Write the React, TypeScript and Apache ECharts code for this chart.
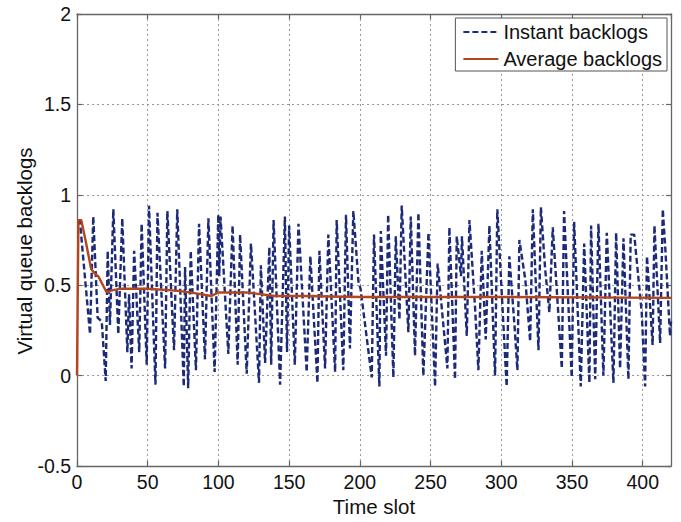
import React, { useEffect, useRef } from "react";
import * as echarts from "echarts";

// Instant backlogs: time slots and values of the turning points
const instantT = [
  1, 2, 9.2, 11.5, 14.6, 17.5, 20.3, 21.7, 23.3, 25.7, 29.2, 32, 35.6, 36.8, 38.6, 40.4,
  44, 45.7, 49.3, 50.9, 55.5, 56.9, 62.3, 63.9, 68.6, 70.9, 75.5, 76.4, 78.6, 80.4,
  84.1, 86.3, 90.5, 92.9, 97.3, 99.9, 100.6, 101.5, 107, 110, 113.6, 115.3, 120, 123,
  128.7, 130, 133, 136, 137.3, 139, 143.6, 147, 148.5, 150, 154, 156.6, 162.4, 165,
  170, 171.4, 175.4, 177.7, 182.5, 183.6, 188.3, 190.2, 193, 195.4, 199, 200.5, 208.4,
  210, 213.8, 214.8, 218.5, 220, 223.7, 225.4, 228, 229.6, 234.3, 236, 239, 241.4,
  244.9, 248.5, 253.2, 255, 261.9, 263.3, 267.3, 268.5, 271.5, 272.2, 275.6, 277.5,
  281.5, 283.8, 286.2, 289, 291.6, 295.6, 297.2, 303.8, 305.7, 309.5, 311.4, 312.8,
  317, 320.4, 322.3, 326.3, 328, 331, 334, 336.4, 342.8, 344.4, 349.8, 351.5, 356.2,
  358.6, 362.3, 363.5, 366.4, 368.7, 372.2, 374.6, 379.3, 381.2, 384, 386.4, 389.9,
  391.5, 394, 399.3, 401.7, 403, 407, 408.3, 412.3, 414.2, 416, 419.3, 420,
];
const instantV = [
  0.86, 0.86, 0.23, 0.88, 0.32, 0.3, -0.03, 0.69, 0.28, 0.92, 0.23, 0.87, 0.13, 0.45, 0.04, 0.69,
  0.13, 0.84, 0.06, 0.94, -0.05, 0.9, 0.04, 0.91, 0.14, 0.92, -0.06, 0.6, -0.07, 0.69,
  0.03, 0.84, 0.09, 0.87, 0.02, 0.89, 0.55, 0.88, 0.12, 0.83, 0.06, 0.78, 0.01, 0.73,
  -0.04, 0.61, 0.07, 0.71, 0.06, 0.86, -0.05, 0.88, 0.13, 0.83, 0.06, 0.84, 0.02, 0.66,
  -0.04, 0.69, 0.04, 0.78, 0.02, 0.86, 0.03, 0.89, 0.15, 0.91, 0.52, 0.48, -0.01,
  0.78, -0.06, 0.8, 0.11, 0.89, -0.01, 0.77, 0.31, 0.94, 0.24, 0.88, 0.11, 0.9,
  0.0, 0.79, -0.06, 0.62, 0.04, 0.82, -0.02, 0.77, 0.55, 0.77, 0.22, 0.86,
  0.37, 0.03, 0.69, 0.2, 0.83, 0.0, 0.92, -0.06, 0.66, 0.26, 0.03, 0.75,
  0.53, 0.19, 0.92, 0.14, 0.93, 0.59, 0.35, 0.82, 0.04, 0.91, -0.01, 0.85, -0.06,
  0.73, -0.04, 0.83, -0.02, 0.84, 0.0, 0.79, -0.04, 0.79, 0.04, 0.76, -0.02,
  0.78, 0.78, 0.35, -0.06, 0.66, 0.17, 0.83, 0.18, 0.92, 0.7, 0.22, 0.3,
];

// Average backlogs
const averageT = [0, 1, 3, 6, 10, 13, 15, 21, 24, 30, 50, 70, 80, 95, 100, 120, 140, 160, 200, 300, 420];
const averageV = [0, 0.86, 0.86, 0.75, 0.59, 0.56, 0.55, 0.46, 0.47, 0.48, 0.48, 0.47, 0.46, 0.44, 0.46, 0.46, 0.44, 0.44, 0.435, 0.435, 0.43];

const seriesNames = ["Instant backlogs", "Average backlogs"];
const xTitle = "Time slot";
const yTitle = "Virtual queue backlogs";

const FONT = "'Liberation Sans', Arial, Helvetica, sans-serif";

export default function App() {
  const ref = useRef<HTMLDivElement>(null);

  useEffect(() => {
    document.body.style.margin = "0";
    if (!ref.current) return;
    const chart = echarts.init(ref.current, undefined, { renderer: "svg" });

    const instData = instantT.map((t, i) => [t, instantV[i]]);
    const avgData = averageT.map((t, i) => [t, averageV[i]]);

    const axisLine = { show: true, onZero: false, lineStyle: { color: "#666", width: 1.3 } };
    const axisTick = { show: true, inside: true, length: 5, lineStyle: { color: "#666", width: 1.2 } };
    const splitLine = { show: true, lineStyle: { color: "#999", type: [2, 3], width: 1 } };
    const tickStyle = { color: "#111", fontSize: 19.5, fontFamily: FONT };
    const titleStyle = { color: "#111", fontSize: 20.5, fontFamily: FONT };

    chart.setOption({
      animation: false,
      backgroundColor: "#fff",
      grid: { left: 77, right: 10, top: 14, bottom: 55, containLabel: false },
      legend: {
        data: [{ name: seriesNames[0] }, { name: seriesNames[1] }],
        orient: "vertical",
        right: 14,
        top: 18,
        backgroundColor: "#fff",
        borderColor: "#555",
        borderWidth: 1,
        borderRadius: 0,
        padding: [4, 5, 2, 7],
        itemGap: 7,
        itemWidth: 35,
        itemHeight: 14,
        itemStyle: { opacity: 0 },
        textStyle: { color: "#111", fontSize: 20, fontFamily: FONT, lineHeight: 20 },
      },
      xAxis: [
        {
          type: "value",
          min: 0,
          max: 420,
          interval: 50,
          position: "bottom",
          name: xTitle,
          nameLocation: "middle",
          nameGap: 30,
          nameMoveOverlap: false,
          nameTextStyle: { ...titleStyle },
          axisLine,
          axisTick,
          splitLine,
          axisLabel: { ...tickStyle, margin: 6, showMaxLabel: false },
        },
        {
          type: "value",
          min: 0,
          max: 420,
          interval: 50,
          position: "top",
          axisLine,
          axisTick,
          splitLine: { show: false },
          axisLabel: { show: false },
        },
      ],
      yAxis: [
        {
          type: "value",
          min: -0.5,
          max: 2,
          interval: 0.5,
          position: "left",
          name: yTitle,
          nameLocation: "middle",
          nameGap: 42,
          nameMoveOverlap: false,
          nameTextStyle: { ...titleStyle, padding: [0, 22, 0, 0] },
          axisLine,
          axisTick,
          splitLine,
          axisLabel: { ...tickStyle, margin: 6 },
        },
        {
          type: "value",
          min: -0.5,
          max: 2,
          interval: 0.5,
          position: "right",
          axisLine,
          axisTick,
          splitLine: { show: false },
          axisLabel: { show: false },
        },
      ],
      series: [
        {
          name: seriesNames[0],
          type: "line",
          data: instData,
          showSymbol: false,
          symbol: "none",
          color: "#1c2a78",
          lineStyle: { color: "#1c2a78", width: 2.4, type: [6, 3] },
          z: 2,
        },
        {
          name: seriesNames[1],
          type: "line",
          data: avgData,
          showSymbol: false,
          symbol: "none",
          color: "#b4461e",
          lineStyle: { color: "#b4461e", width: 2.4 },
          z: 3,
        },
      ],
    });

    return () => chart.dispose();
  }, []);

  return (
    <div
      ref={ref}
      style={{ position: "absolute", left: 0, top: 0, width: 681, height: 522 }}
    />
  );
}
